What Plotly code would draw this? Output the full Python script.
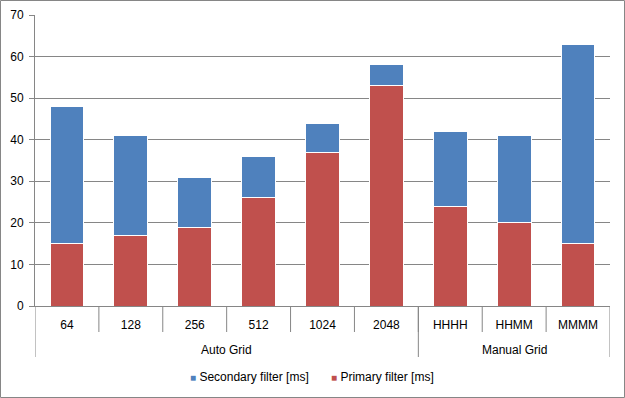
import plotly.graph_objects as go

categories = ["64", "128", "256", "512", "1024", "2048", "HHHH", "HHMM", "MMMM"]
groups = ["Auto Grid", "Manual Grid"]
group_sizes = [6, 3]
primary = [15, 17, 19, 26, 37, 53, 24, 20, 15]
secondary = [33, 24, 12, 10, 7, 5, 18, 21, 48]

W, H = 625, 398
L, R, T, B = 35, 15, 15, 92
pw, ph = W - L - R, H - T - B
BLUE, RED = "#4F81BD", "#C0504D"
GRAY = "#868686"
FS = 12

fig = go.Figure()
fig.add_trace(go.Bar(x=categories, y=primary, name="Primary filter [ms]", showlegend=False,
                     marker=dict(color=RED, line=dict(color="white", width=1))))
fig.add_trace(go.Bar(x=categories, y=secondary, name="Secondary filter [ms]", showlegend=False,
                     marker=dict(color=BLUE, line=dict(color="white", width=1))))

shapes = []
for i in range(len(categories) - 1):
    shapes.append(dict(type="line", xref="x", yref="paper", x0=i + 0.5, x1=i + 0.5,
                       y0=0, y1=-26 / ph, line=dict(color=GRAY, width=1)))
pos = -0.5
bounds = [pos]
for g in group_sizes:
    pos += g
    bounds.append(pos)
for b in bounds:
    shapes.append(dict(type="line", xref="x", yref="paper", x0=b, x1=b,
                       y0=0, y1=-51 / ph, line=dict(color=GRAY, width=1)))
shapes.append(dict(type="rect", xref="paper", yref="paper",
                   x0=(0.5 - L) / pw, x1=(W - 0.5 - L) / pw,
                   y0=(T + ph - (H - 0.5)) / ph, y1=(T + ph - 0.5) / ph,
                   line=dict(color=GRAY, width=1)))

annotations = []
for gi, g in enumerate(groups):
    annotations.append(dict(x=(bounds[gi] + bounds[gi + 1]) / 2, xref="x",
                            y=-44 / ph, yref="paper", text=g, showarrow=False,
                            yanchor="middle", font=dict(size=FS, color="#000")))
legend_items = [("Secondary filter [ms]", BLUE, 188), ("Primary filter [ms]", RED, 329)]
for name, col, px in legend_items:
    annotations.append(dict(x=(px - L) / pw, xref="paper", y=-71 / ph, yref="paper",
                            xanchor="left", yanchor="middle", showarrow=False,
                            text=f'<span style="color:{col};font-size:10px">■</span> {name}',
                            font=dict(size=FS, color="#000")))

fig.update_layout(
    width=W, height=H,
    margin=dict(l=L, r=R, t=T, b=B, autoexpand=False),
    barmode="stack", bargap=0.47,
    plot_bgcolor="white", paper_bgcolor="white",
    font=dict(family="Liberation Sans, Arial, sans-serif", size=FS, color="#000"),
    showlegend=False,
    xaxis=dict(type="category", range=[-0.5, 8.5], showgrid=False, showline=True,
               linecolor=GRAY, ticks="", ticklabelstandoff=8, automargin=False),
    yaxis=dict(range=[0, 70], dtick=10, showgrid=True, gridcolor=GRAY, gridwidth=1,
               showline=True, linecolor=GRAY, ticks="outside", ticklen=5,
               tickcolor=GRAY, zeroline=False, ticklabelstandoff=3, automargin=False),
    shapes=shapes, annotations=annotations,
)
fig.write_html("out.html", config={"displayModeBar": False},
               post_script="document.body.style.margin='0px';")
